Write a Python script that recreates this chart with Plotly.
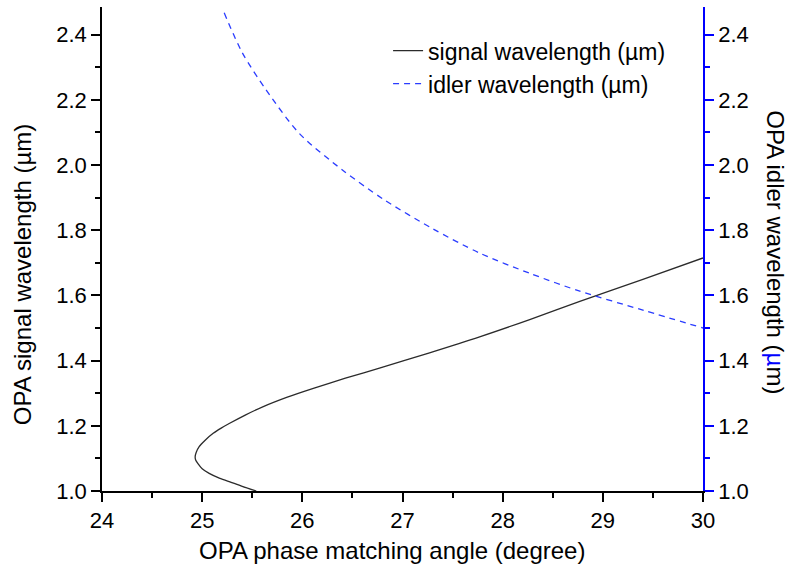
import plotly.graph_objects as go

# Signal wavelength (um) vs phase matching angle (deg)
signal_angle = [25.54, 25.40, 25.27, 25.16, 25.07, 25.00, 24.96, 24.935, 24.93, 24.94, 24.97,
                25.03, 25.11, 25.19, 25.27, 25.43, 25.61, 25.85, 26.11, 26.43, 26.77,
                27.27, 27.77, 28.27, 28.77, 29.40, 30.00]
signal_wl = [1.000, 1.014, 1.029, 1.041, 1.054, 1.068, 1.083, 1.095, 1.105, 1.118, 1.136,
             1.156, 1.177, 1.193, 1.207, 1.233, 1.259, 1.288, 1.315, 1.346, 1.377,
             1.424, 1.473, 1.526, 1.582, 1.649, 1.715]

# Idler wavelength (um) vs phase matching angle (deg)
idler_angle = [25.22, 25.40, 25.64, 25.97, 26.40, 26.81, 27.30, 27.77, 28.27, 28.77, 29.40, 30.00]
idler_wl = [2.467, 2.345, 2.230, 2.097, 1.985, 1.895, 1.805, 1.730, 1.668, 1.613, 1.555, 1.500]

x_ticks = [24, 25, 26, 27, 28, 29, 30]
y_ticks = [1.0, 1.2, 1.4, 1.6, 1.8, 2.0, 2.2, 2.4]
x_range = [24, 30]
y_range = [1.0, 2.485]

FONT = "Liberation Sans, Arial, sans-serif"
BLUE = "#0000ff"
DASHBLUE = "#2a3cff"
LW = 1.5

fig = go.Figure()
fig.add_trace(go.Scatter(x=signal_angle, y=signal_wl, mode="lines",
                         line=dict(color="#2b2b2b", width=1.3, shape="spline", smoothing=0.8),
                         name="signal wavelength (\u00b5m)"))
fig.add_trace(go.Scatter(x=idler_angle, y=idler_wl, mode="lines",
                         line=dict(color=DASHBLUE, width=1.3, dash="6px,5px", shape="spline", smoothing=0.8),
                         name="idler wavelength (\u00b5m)", yaxis="y2"))

fig.update_layout(
    width=790, height=579,
    margin=dict(l=102, r=87, t=7, b=88),
    paper_bgcolor="white", plot_bgcolor="white",
    font=dict(family=FONT, size=22, color="black"),
    showlegend=True,
    legend=dict(x=0.476, y=0.954, xanchor="left", yanchor="top", bgcolor="rgba(0,0,0,0)",
                font=dict(size=23, family=FONT), tracegroupgap=0),
    xaxis=dict(range=x_range, tickvals=x_ticks, ticks="outside", ticklen=9, tickwidth=LW, tickcolor="black",
               showline=True, linecolor="black", linewidth=LW, showgrid=False, zeroline=False,
               tickfont=dict(size=22),
               minor=dict(dtick=0.5, ticks="outside", ticklen=5, tickwidth=LW, tickcolor="black", showgrid=False)),
    xaxis2=dict(range=x_range, tickvals=x_ticks, ticks="inside", ticklen=9, tickwidth=LW, tickcolor="black",
                overlaying="x", side="top", anchor="y", showticklabels=False,
                showline=True, linecolor="black", linewidth=LW, showgrid=False, zeroline=False,
                minor=dict(dtick=0.5, ticks="inside", ticklen=5, tickwidth=LW, tickcolor="black", showgrid=False)),
    yaxis=dict(range=y_range, tickvals=y_ticks, tickformat=".1f", ticks="outside", ticklen=9, tickwidth=LW,
               tickcolor="black", tickfont=dict(size=22),
               showline=True, linecolor="black", linewidth=LW, showgrid=False, zeroline=False,
               minor=dict(dtick=0.1, ticks="outside", ticklen=5, tickwidth=LW, tickcolor="black", showgrid=False)),
    yaxis2=dict(range=y_range, tickvals=y_ticks, tickformat=".1f", ticks="outside", ticklen=9, tickwidth=LW,
                tickcolor=BLUE, tickfont=dict(size=22, color="black"),
                overlaying="y", side="right", anchor="x",
                showline=True, linecolor=BLUE, linewidth=LW, showgrid=False, zeroline=False,
                minor=dict(dtick=0.1, ticks="outside", ticklen=5, tickwidth=LW, tickcolor=BLUE, showgrid=False)),
    annotations=[
        dict(text="OPA phase matching angle (degree)", xref="paper", yref="paper", x=0.482, y=-0.122,
             xanchor="center", yanchor="middle", showarrow=False, font=dict(size=24)),
        dict(text="OPA signal wavelength (\u00b5m)", xref="paper", yref="paper", x=-0.133, y=0.448,
             xanchor="center", yanchor="middle", textangle=-90, showarrow=False, font=dict(size=24)),
        dict(text="OPA idler wavelength (<span style='color:#0000ff'>\u00b5</span>m)", xref="paper", yref="paper",
             x=1.12, y=0.493, xanchor="center", yanchor="middle", textangle=90, showarrow=False, font=dict(size=24)),
    ],
)

fig.write_html("out.html")
